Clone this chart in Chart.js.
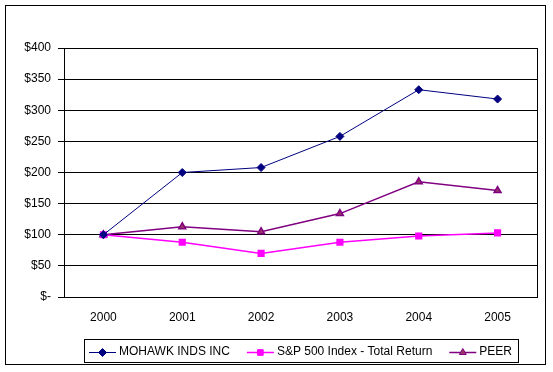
<!DOCTYPE html>
<html lang="en">
<head>
    <meta charset="UTF-8">
    <title>Cumulative Total Return</title>
    <script src="https://cdn.jsdelivr.net/npm/chart.js"></script>
    <style>
        body { margin: 0; background: white; }
        .chart-box { width: 553px; height: 372px; }
    </style>
</head>
<body>
    <div class="chart-box">
        <canvas id="returnChart"></canvas>
    </div>

    <script>
        const years = ['2000', '2001', '2002', '2003', '2004', '2005'];
        const mohawk = [100, 200, 208, 258, 333, 318];
        const sp500 = [100, 88, 70, 88, 98, 103];
        const peer = [100, 113, 105, 134, 185, 171];
        const seriesNames = ['MOHAWK INDS INC', 'S&P 500 Index - Total Return', 'PEER'];

        const fontFamily = '"Liberation Sans", Arial, sans-serif';

        // outer frame, plot box and the boxed legend, Excel style
        const frame = {
            id: 'frame',
            afterDraw(chart) {
                const c = chart.ctx;
                const a = chart.chartArea;
                c.save();
                c.strokeStyle = '#000';
                c.lineWidth = 1;
                c.strokeRect(5.5, 5.5, 540, 359);
                c.strokeRect(Math.round(a.left) + 0.5, Math.round(a.top) + 0.5,
                    Math.round(a.right - a.left), Math.round(a.bottom - a.top));

                c.font = '12px ' + fontFamily;
                c.textBaseline = 'middle';
                const lineLen = 27, gap = 3, after = 17;
                const widths = chart.data.datasets.map(ds => c.measureText(ds.label).width);
                let total = 5;
                widths.forEach((w, i) => { total += lineLen + gap + w + (i < widths.length - 1 ? after : 0); });
                total += 6;
                const boxLeft = Math.round((a.left + a.right) / 2 - total / 2);
                const boxTop = 339, boxH = 23;
                c.strokeRect(boxLeft + 0.5, boxTop + 0.5, Math.round(total), boxH);

                const cy = boxTop + boxH / 2 + 1;
                let x = boxLeft + 5;
                chart.data.datasets.forEach((ds, i) => {
                    c.strokeStyle = ds.borderColor;
                    c.lineWidth = ds.borderWidth;
                    c.beginPath();
                    c.moveTo(x, Math.round(cy) + 0.5);
                    c.lineTo(x + lineLen, Math.round(cy) + 0.5);
                    c.stroke();
                    c.fillStyle = ds.pointBackgroundColor;
                    c.strokeStyle = ds.pointBorderColor;
                    c.lineWidth = 1;
                    Chart.helpers.drawPoint(c, { pointStyle: ds.pointStyle, radius: ds.pointRadius, rotation: 0, borderWidth: 1 }, x + lineLen / 2, Math.round(cy) + 0.5);
                    c.fillStyle = '#000';
                    c.fillText(ds.label, x + lineLen + gap, cy);
                    x += lineLen + gap + widths[i] + after;
                });
                c.restore();
            }
        };

        const ctx = document.getElementById('returnChart').getContext('2d');

        const chart = new Chart(ctx, {
            type: 'line',
            data: {
                labels: years,
                datasets: [
                    { label: seriesNames[0], data: mohawk, borderColor: '#000080', borderWidth: 1,
                      pointStyle: 'rectRot', pointRadius: 4, pointBackgroundColor: '#000080', pointBorderColor: '#000080', tension: 0 },
                    { label: seriesNames[1], data: sp500, borderColor: '#FF00FF', borderWidth: 1.5,
                      pointStyle: 'rect', pointRadius: 4, pointBackgroundColor: '#FF00FF', pointBorderColor: '#FF00FF', tension: 0 },
                    { label: seriesNames[2], data: peer, borderColor: '#800080', borderWidth: 1.5,
                      pointStyle: 'triangle', pointRadius: 4, pointBackgroundColor: '#993366', pointBorderColor: '#800080', tension: 0 }
                ]
            },
            options: {
                responsive: true,
                maintainAspectRatio: false,
                animation: false,
                layout: { padding: { left: 0, top: 48, right: 16, bottom: 45 } },
                plugins: {
                    legend: { display: false },
                    tooltip: { enabled: false }
                },
                scales: {
                    x: {
                        offset: true,
                        grid: { display: false, drawTicks: false },
                        border: { display: false },
                        ticks: { color: '#000', padding: 13, font: { family: fontFamily, size: 12 } },
                        afterFit: s => { s.height = 30; }
                    },
                    y: {
                        min: 0,
                        max: 400,
                        grid: { color: '#000', lineWidth: 1, drawTicks: true, tickLength: 6 },
                        border: { display: false },
                        ticks: {
                            stepSize: 50,
                            color: '#000',
                            padding: 7,
                            font: { family: fontFamily, size: 12 },
                            callback: v => v === 0 ? '$-' : '$' + v
                        },
                        afterFit: s => { s.width = 64; }
                    }
                }
            },
            plugins: [frame]
        });
    </script>
</body>
</html>
